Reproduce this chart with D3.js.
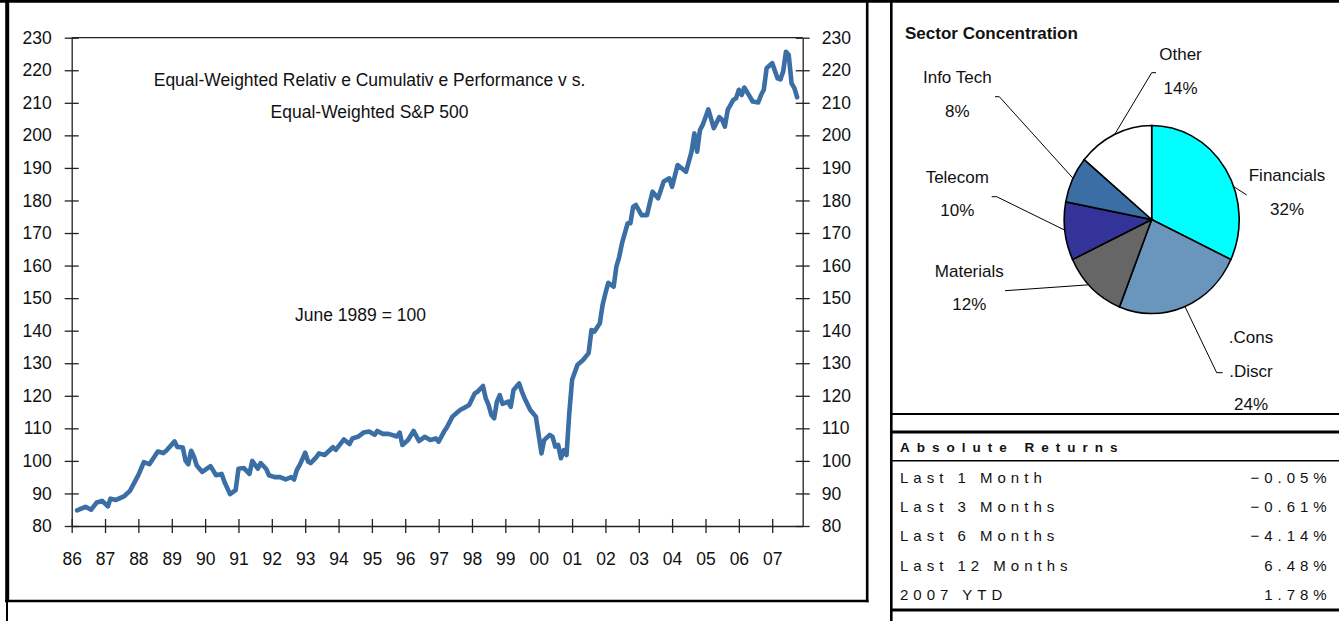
<!DOCTYPE html>
<html>
<head>
<meta charset="utf-8">
<script src="https://d3js.org/d3.v7.min.js"></script>
<style>
  body { margin: 0; background: #fff; }
  svg { display: block; font-family: "Liberation Sans", Arial, sans-serif; }
</style>
</head>
<body>
<svg id="chart" width="1339" height="621"></svg>
<script>
// relative cumulative performance, June 1989 = 100
let perfMonths = [
  "1986-03","1986-06","1986-08","1986-10","1986-12",
  "1987-02","1987-03","1987-05","1987-08","1987-10","1987-12",
  "1988-01","1988-03","1988-05","1988-06","1988-08","1988-10","1988-11",
  "1989-02","1989-03","1989-05","1989-06","1989-07","1989-08","1989-09","1989-10","1989-12",
  "1990-03","1990-05","1990-07","1990-08","1990-10","1990-12",
  "1991-01","1991-03","1991-05","1991-06","1991-08","1991-09","1991-11","1991-12",
  "1992-02","1992-04","1992-06","1992-08","1992-09","1992-10","1992-11",
  "1993-01","1993-02","1993-03","1993-05","1993-06","1993-08","1993-11","1993-12",
  "1994-03","1994-05","1994-06","1994-08","1994-10","1994-12",
  "1995-02","1995-03","1995-05","1995-07","1995-09","1995-10","1995-11","1995-12",
  "1996-02","1996-04","1996-06","1996-08","1996-10","1996-12",
  "1997-01","1997-03","1997-04","1997-06","1997-08","1997-09","1997-10","1997-12",
  "1998-02","1998-03","1998-05","1998-06","1998-07","1998-08","1998-09","1998-10","1998-11","1998-12",
  "1999-02","1999-03","1999-04","1999-05","1999-06","1999-07","1999-08","1999-10","1999-12",
  "2000-02","2000-03","2000-05","2000-06","2000-07","2000-08","2000-09","2000-10","2000-11","2000-12",
  "2001-01","2001-03","2001-05","2001-07","2001-08","2001-09","2001-11","2001-12",
  "2002-01","2002-02","2002-04","2002-05","2002-06","2002-07","2002-09","2002-10","2002-11","2002-12",
  "2003-02","2003-04","2003-05","2003-06","2003-08","2003-10","2003-12",
  "2004-01","2004-03","2004-06","2004-08","2004-09","2004-10","2004-11","2004-12",
  "2005-02","2005-04","2005-06","2005-07","2005-08","2005-09","2005-11","2005-12",
  "2006-01","2006-02","2006-03","2006-05","2006-06","2006-08","2006-09","2006-10","2006-11",
  "2007-01","2007-03","2007-04","2007-05","2007-06","2007-07","2007-08","2007-09","2007-10"
];
let perfValues = [
  84.8, 85.9, 85.0, 87.2, 87.7,
  86.0, 88.4, 88.0, 89.2, 90.8, 94.0,
  95.6, 99.6, 99.0, 100.3, 102.9, 102.4, 103.1,
  106.0, 104.3, 104.1, 100.0, 99.0, 103.1, 101.3, 98.6, 96.6,
  98.4, 95.6, 96.0, 93.5, 89.8, 91.0,
  97.6, 97.8, 96.0, 100.0, 97.6, 99.3, 97.5, 95.6,
  95.0, 95.0, 94.3, 95.0, 94.3, 97.2, 98.7,
  102.5, 99.8, 99.3, 101.1, 102.3, 101.8, 104.2, 103.4,
  106.6, 105.2, 106.9, 107.4, 108.7, 109.0,
  108.0, 109.2, 108.3, 108.3, 107.8, 107.5, 108.7, 104.9,
  106.4, 109.2, 106.1, 107.4, 106.4, 106.9,
  105.9, 109.0, 110.3, 113.6, 115.1, 115.8, 116.2, 117.2,
  120.8, 121.2, 123.0, 119.2, 117.2, 114.1, 113.1, 118.2, 120.2, 117.5,
  118.2, 116.6, 121.8, 122.8, 123.8, 121.3, 119.2, 115.6, 113.6,
  102.3, 106.4, 108.0, 107.4, 104.4, 104.9, 100.8, 103.3, 101.8, 114.6,
  124.9, 129.5, 131.0, 133.1, 140.2, 139.7, 142.3, 147.9,
  151.5, 154.7, 153.5, 159.7, 162.7, 166.8, 173.0, 173.0, 178.1, 178.6,
  175.5, 175.5, 179.1, 182.7, 180.7, 185.8, 186.8,
  184.2, 190.9, 188.8, 195.0, 200.6, 195.0, 201.6, 203.2,
  208.0, 202.2, 205.6, 204.8, 202.7, 207.8, 210.9, 211.4,
  214.0, 212.4, 214.7, 211.9, 210.4, 210.1, 212.4, 214.0, 220.6,
  222.2, 217.5, 217.2, 219.6, 225.7, 224.7, 216.0, 214.5, 211.7
];
let yTicks = d3.range(80, 231, 10);

let sectorNames = ["Financials", "Cons Discr", "Materials", "Telecom", "Info Tech", "Other"];
let sectorLabels = [["Financials"], [".Cons", ".Discr"], ["Materials"], ["Telecom"], ["Info Tech"], ["Other"]];
let sectorShares = [32, 24, 12, 10, 8, 14];
let sectorColors = ["#00ffff", "#6a96be", "#666666", "#333399", "#3a6ea5", "#ffffff"];

let returnLabels = ["Last 1 Month", "Last 3 Months", "Last 6 Months", "Last 12 Months", "2007 YTD"];
let returnValues = [-0.05, -0.61, -4.14, 6.48, 1.78];

let svg = d3.select("#chart");
let font = '"Liberation Sans", Arial, sans-serif';
let ink = "#111";

// ---- line chart ----
let parseMonth = d3.timeParse("%Y-%m");
let perf = perfMonths.map(function(m, i){ return {date: parseMonth(m), value: perfValues[i]}; });

let x = d3.scaleTime()
  .domain([new Date(1986, 0, 1), new Date(2007, 11, 1)])
  .range([71.7, 802.7]);
let y = d3.scaleLinear().domain([80, 230]).range([526, 37.7]);

function styleAxis(g){
  g.attr("font-size", 17.5).attr("font-family", font);
  g.selectAll("text").attr("fill", ink);
  g.selectAll("line").attr("stroke", "#222").attr("stroke-width", 1.3);
  g.select(".domain").attr("stroke", "#222").attr("stroke-width", 1.3);
}

let gLeft = svg.append("g")
  .attr("transform", "translate(" + x.range()[0] + ",0)")
  .call(d3.axisLeft(y).tickValues(yTicks).tickSize(7).tickSizeOuter(0).tickPadding(13));
gLeft.selectAll(".tick line").attr("x1", 7);
styleAxis(gLeft);

let gRight = svg.append("g")
  .attr("transform", "translate(" + x.range()[1] + ",0)")
  .call(d3.axisRight(y).tickValues(yTicks).tickSize(7).tickSizeOuter(0).tickPadding(12));
gRight.selectAll(".tick line").attr("x1", -7);
styleAxis(gRight);

let gBottom = svg.append("g")
  .attr("transform", "translate(0," + y(80) + ")")
  .call(d3.axisBottom(x).ticks(d3.timeYear.every(1)).tickFormat(d3.timeFormat("%y"))
    .tickSize(7).tickSizeOuter(0).tickPadding(20));
gBottom.selectAll(".tick line").attr("y1", -7);
styleAxis(gBottom);

svg.append("line")
  .attr("x1", x.range()[0]).attr("x2", x.range()[1])
  .attr("y1", y(230)).attr("y2", y(230))
  .attr("stroke", "#222").attr("stroke-width", 1.3);

svg.append("path")
  .datum(perf)
  .attr("fill", "none")
  .attr("stroke", "#3a6ea5")
  .attr("stroke-width", 4.6)
  .attr("stroke-linejoin", "round")
  .attr("stroke-linecap", "round")
  .attr("d", d3.line().x(function(d){ return x(d.date); }).y(function(d){ return y(d.value); }));

let notes = svg.append("g").attr("font-family", font).attr("font-size", 17.5).attr("fill", ink)
  .attr("text-anchor", "middle");
notes.append("text").attr("x", 369.5).attr("y", 86).text("Equal-Weighted Relativ e Cumulativ e Performance v s.");
notes.append("text").attr("x", 369.5).attr("y", 118).text("Equal-Weighted S&P 500");
notes.append("text").attr("x", 360.5).attr("y", 321).text("June 1989 = 100");

// ---- sector pie ----
let pieCx = 1151.7, pieCy = 219.5, pieRx = 87.5, pieRy = 94;
let arcs = d3.pie().sort(null).value(function(d){ return d; })(sectorShares);
let arcGen = d3.arc().innerRadius(0).outerRadius(100);

svg.append("text")
  .attr("x", 905).attr("y", 39.3)
  .attr("font-family", font).attr("font-size", 17).attr("font-weight", "bold").attr("fill", ink)
  .text("Sector Concentration");

svg.append("g")
  .attr("transform", "translate(" + pieCx + "," + pieCy + ") scale(" + (pieRx / 100) + "," + (pieRy / 100) + ")")
  .selectAll("path")
  .data(arcs)
  .enter().append("path")
    .attr("d", arcGen)
    .attr("fill", function(d, i){ return sectorColors[i]; })
    .attr("stroke", "#000")
    .attr("stroke-width", 1.6)
    .attr("vector-effect", "non-scaling-stroke");

// label placement: attach angle on the pie edge (deg), leader bends, text centre / first baseline
let labelLayout = [
  {attach: 69.5,  lead: [[1246.7, 195]],                  lx: 1287,   ly: 181},
  {attach: 157.7, lead: [[1216.7, 372.7], [1222.7, 372.7]], lx: 1251,   ly: 343.3},
  {attach: 226,   lead: [[1005, 290.7]],                  lx: 969.3,  ly: 276.7},
  {attach: 263.5, lead: [[996.7, 196.7], [991.7, 196.7]],   lx: 957.3,  ly: 182.7},
  {attach: 296,   lead: [[999.3, 96.7], [995, 96.7]],       lx: 957.3,  ly: 83.3},
  {attach: 335,   lead: [[1151.7, 72.7], [1156, 72.7]],     lx: 1180.5, ly: 60}
];

function pieEdge(deg){
  let a = deg * Math.PI / 180;
  return [pieCx + pieRx * Math.sin(a), pieCy - pieRy * Math.cos(a)];
}

let labels = svg.append("g").attr("font-family", font).attr("font-size", 17).attr("fill", ink)
  .attr("text-anchor", "middle");

sectorNames.forEach(function(name, i){
  let lay = labelLayout[i];
  svg.append("path")
    .attr("d", d3.line()([pieEdge(lay.attach)].concat(lay.lead)))
    .attr("fill", "none").attr("stroke", "#000").attr("stroke-width", 1);
  let lines = sectorLabels[i].concat([sectorShares[i] + "%"]);
  lines.forEach(function(t, k){
    labels.append("text").attr("x", lay.lx).attr("y", lay.ly + k * 33.5).text(t);
  });
});

// ---- absolute returns table ----
let table = svg.append("g").attr("font-family", font).attr("fill", ink);
table.append("text")
  .attr("x", 900).attr("y", 451.7)
  .attr("font-size", 13.5).attr("font-weight", "bold").attr("letter-spacing", 7)
  .text("Absolute Returns");

let rowY = d3.scalePoint().domain(returnLabels).range([482.7, 600]);
let fmt = d3.format(".2f");
returnLabels.forEach(function(lbl, i){
  table.append("text")
    .attr("x", 900).attr("y", rowY(lbl))
    .attr("font-size", 15).attr("letter-spacing", 5)
    .text(lbl);
  table.append("text")
    .attr("x", 1331.7).attr("y", rowY(lbl))
    .attr("font-size", 15).attr("letter-spacing", 5).attr("text-anchor", "end")
    .text(fmt(returnValues[i]) + "%");
});

// ---- frames ----
let frame = svg.append("g").attr("stroke", "#000").attr("fill", "none");
function rule(x1, y1, x2, y2, w){
  frame.append("line").attr("x1", x1).attr("y1", y1).attr("x2", x2).attr("y2", y2).attr("stroke-width", w);
}
rule(0, 1.3, 1339, 1.3, 3);
rule(7.2, 0, 7.2, 602, 4);
rule(7, 602, 7, 621, 2);
rule(5, 601, 868.5, 601, 2.6);
rule(867.2, 0, 867.2, 602.3, 2.6);
rule(891.3, 0, 891.3, 621, 2.6);
rule(891, 414, 1339, 414, 2);
rule(891, 432, 1339, 432, 3);
rule(891, 460.8, 1339, 460.8, 1.5);
rule(891, 610, 1339, 610, 3);
</script>
</body>
</html>
